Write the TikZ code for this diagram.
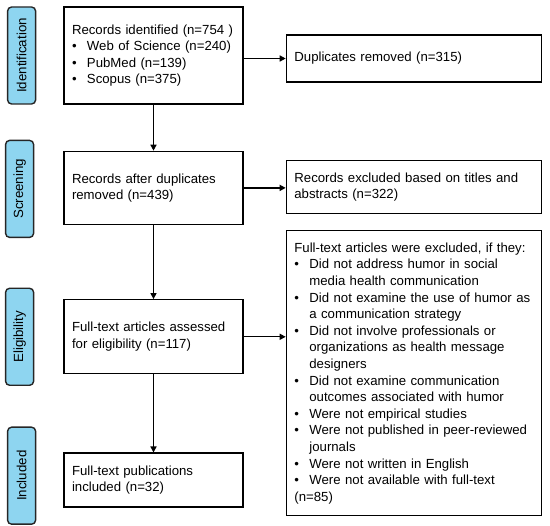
\documentclass[tikz,border=0pt]{standalone}
\usepackage{fontspec}
\setmainfont{Liberation Sans}
\usepackage{xcolor}
\usepackage{tikz}
\usetikzlibrary{arrows.meta, positioning}
\definecolor{phaseblue}{RGB}{142,213,240}
\newcommand{\bitem}[1]{\par\noindent\hangindent=15pt\hangafter=1\makebox[15pt][l]{\textbullet}#1}
\tikzset{
  box/.style   = {rectangle, draw=black, line width=1.4pt, fill=white,
                  text width=163pt, align=left, inner xsep=8pt, inner ysep=3pt,
                  font=\fontsize{13.2}{16.6}\selectfont},
  exbox/.style = {box, text width=239pt, inner xsep=8pt},
  phase/.style = {rectangle, rounded corners=4pt, draw=black!85, fill=phaseblue,
                  line width=1.4pt, minimum width=28pt, minimum height=97pt,
                  inner sep=0pt, font=\fontsize{13.3}{16}\selectfont},
  arr/.style   = {-{Triangle[length=6pt,width=6pt]}, line width=1.4pt, draw=black}
}
\begin{document}
\begin{tikzpicture}
  \useasboundingbox (0,0) rectangle (550pt,-526pt);
  % main column
  \node[box, minimum height=97pt] (id) at (153.5pt,-55.5pt)
    {Records identified (n=754 )\bitem{Web of Science (n=240)}\bitem{PubMed (n=139)}\bitem{Scopus (n=375)}};
  \node[box, minimum height=73pt] (scr)  [below=46pt of id]  {Records after duplicates\\removed (n=439)};
  \node[box, minimum height=74pt] (elig) [below=74pt of scr] {Full-text articles assessed\\for eligibility (n=117)};
  \node[box, minimum height=54pt] (inc)  [below=78pt of elig]{Full-text publications\\included (n=32)};
  % exclusions
  \node[exbox, minimum height=47pt] (dup)  [right=42pt of id, yshift=-3pt]  {Duplicates removed (n=315)};
  \node[exbox, minimum height=53pt] (exta) [right=42pt of scr, yshift=1pt]  {Records excluded based on titles and\\abstracts (n=322)};
  \node[exbox, minimum height=285pt] (extb) [right=42pt of elig, yshift=-36.5pt]
    {Full-text articles were excluded, if they:%
     \bitem{Did not address humor in social\newline media health communication}%
     \bitem{Did not examine the use of humor as\newline a communication strategy}%
     \bitem{Did not involve professionals or\newline organizations as health message\newline designers}%
     \bitem{Did not examine communication\newline outcomes associated with humor}%
     \bitem{Were not empirical studies}%
     \bitem{Were not published in peer-reviewed\newline journals}%
     \bitem{Were not written in English}%
     \bitem{Were not available with full-text}%
     \par\noindent(n=85)};
  % phases
  \node[phase, left=27pt of id]                (pid)   {\rotatebox{90}{Identification}};
  \node[phase, left=29pt of scr, yshift=-1pt]  (pscr)  {\rotatebox{90}{Screening}};
  \node[phase, left=29pt of elig]              (pelig) {\rotatebox{90}{Eligibility}};
  \node[phase, left=27pt of inc, yshift=4.5pt] (pinc)  {\rotatebox{90}{Included}};
  % arrows
  \draw[arr] (id)--(scr); \draw[arr] (scr)--(elig); \draw[arr] (elig)--(inc);
  \draw[arr] (dup.west -| id.east)--(dup.west);
  \draw[arr] (scr.east)--(scr.east -| exta.west);
  \draw[arr] (elig.east)--(elig.east -| extb.west);
\end{tikzpicture}
\end{document}
